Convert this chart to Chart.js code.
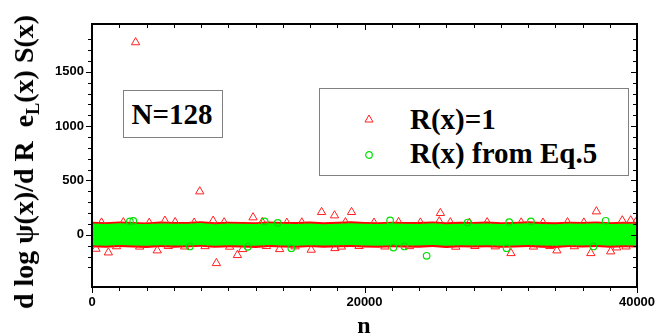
<!DOCTYPE html>
<html>
<head>
<meta charset="utf-8">
<script src="https://cdn.jsdelivr.net/npm/chart.js@4"></script>
<style>
  html, body { margin: 0; padding: 0; background: #fff; }
  #wrap { position: relative; width: 670px; height: 335px; overflow: hidden; }
  #chart { position: absolute; left: 0; top: 0; }
  .serif { font-family: "Liberation Serif", "Times New Roman", serif; font-weight: bold; color: #000; position: absolute; white-space: nowrap; line-height: 1; }
  #ytitle { font-size: 28px; left: 26px; top: 162px; transform: translate(-50%, -50%) rotate(-90deg); }
  #ytitle sub { font-size: 18px; vertical-align: -6px; }
  #xtitle { font-size: 24px; left: 364px; top: 313px; transform: translateX(-50%); }
  .box { position: absolute; border: 1px solid #808080; background: #fff; }
</style>
</head>
<body>
<div id="wrap">
  <canvas id="chart" width="670" height="335"></canvas>
  <div class="serif" id="ytitle">d log &psi;(x)/d R&nbsp; e<sub>L</sub>(x) S(x)</div>
  <div class="serif" id="xtitle">n</div>
  <div class="box" style="left:123px;top:90px;width:98px;height:46px;"></div>
  <div class="serif" style="font-size:29px;left:172px;top:100px;transform:translateX(-50%);">N=128</div>
  <div class="box" style="left:319px;top:88px;width:308px;height:86px;"></div>
  <svg style="position:absolute;left:364px;top:114px;" width="10" height="9"><polygon points="5,1 9,8 1,8" fill="none" stroke="#ff2020" stroke-width="1"/></svg>
  <svg style="position:absolute;left:364px;top:150px;" width="10" height="10"><circle cx="5" cy="5" r="3.3" fill="none" stroke="#00e000" stroke-width="1.2"/></svg>
  <div class="serif" style="font-size:29px;left:410px;top:105px;">R(x)=1</div>
  <div class="serif" style="font-size:29px;left:410px;top:139px;">R(x) from Eq.5</div>
</div>
<script>
// dense band envelope (every 1000 steps)
const bandN = [0,1000,2000,3000,4000,5000,6000,7000,8000,9000,10000,11000,12000,13000,14000,15000,16000,17000,18000,19000,20000,
  21000,22000,23000,24000,25000,26000,27000,28000,29000,30000,31000,32000,33000,34000,35000,36000,37000,38000,39000,40000];
const redTop = [120,116,123,118,114,122,117,119,124,115,121,118,116,123,119,117,122,115,120,124,118,116,121,119,117,123,115,120,118,122,116,119,124,117,115,121,118,123,116,120,119];
const greenTop = [104,100,107,102,99,105,101,103,108,98,104,102,100,106,103,99,105,98,103,107,101,100,104,102,99,106,98,103,101,105,100,102,107,100,98,104,101,106,99,103,102];
const greenBot = [-96,-100,-94,-98,-101,-95,-99,-97,-93,-100,-96,-98,-101,-94,-97,-100,-95,-99,-96,-93,-98,-100,-95,-97,-99,-94,-101,-96,-98,-95,-100,-97,-93,-99,-101,-95,-98,-94,-100,-96,-97];
const redBot = [-114,-119,-111,-117,-120,-113,-118,-115,-110,-119,-114,-117,-120,-112,-116,-119,-113,-118,-115,-111,-117,-119,-114,-116,-118,-112,-120,-115,-117,-114,-119,-116,-111,-118,-120,-113,-117,-112,-119,-115,-116];

// R(x)=1 points standing out of the band
const redN = [3200,7910,9130,16850,17800,19050,11820,10670,1200,290,4790,11060,13770,16090,17830,8890,5350,25570,37020,30750,34120,36610,38070,38510,38920,39540,25490,
  700,2300,4200,6100,7500,9700,12500,14300,15400,18600,20700,22500,24100,26300,27700,29000,31500,33100,34900,36100,39900,
  1800,3500,5600,6800,8300,10100,12800,14900,18300,19600,21500,23300,26700,28100,29600,32400,33600,35400,39200];
const redV = [1771,399,-261,209,178,209,160,-187,-163,-129,-144,-132,-132,-138,-123,129,129,200,215,-169,-144,-169,-153,-117,132,132,123,
  112,115,110,116,111,114,117,110,113,115,111,116,112,114,110,115,113,111,115,112,114,
  -106,-109,-104,-108,-105,-110,-104,-107,-109,-104,-108,-105,-110,-104,-107,-109,-104,-106,-108];

// R(x) from Eq.5 points standing out of the band
const greenN = [2780,3030,7180,12670,13630,14630,11430,21880,22120,22930,24560,27570,30430,30620,32210,37700,36800];
const greenV = [123,128,-107,123,110,-123,-110,132,-117,-107,-193,113,-123,117,123,129,-107];

const xTicks = ['0', '20000', '40000'];
const yTicks = ['0', '500', '1000', '1500'];

function pts(xs, ys) {
  return xs.map((x, i) => ({ x: x, y: ys[i] }));
}

// ticks on all four sides, like the original plot
const frame = {
  id: 'frame',
  afterDraw(chart) {
    const ctx = chart.ctx;
    const a = chart.chartArea;
    const xs = chart.scales.x, ys = chart.scales.y;
    ctx.save();
    ctx.strokeStyle = '#000';
    ctx.lineWidth = 1;
    ctx.beginPath();
    xs.ticks.forEach(t => {
      if (t.value % 2000 !== 0) return;
      const px = Math.round(xs.getPixelForValue(t.value)) + 0.5;
      const len = t.value % 20000 === 0 ? 6 : 4;
      ctx.moveTo(px, a.bottom); ctx.lineTo(px, a.bottom + len);
      ctx.moveTo(px, a.top); ctx.lineTo(px, a.top + len);
    });
    ys.ticks.forEach(t => {
      if (t.value % 100 !== 0) return;
      const py = Math.round(ys.getPixelForValue(t.value)) + 0.5;
      const len = t.value % 500 === 0 ? 6 : 4;
      ctx.moveTo(a.left, py); ctx.lineTo(a.left - len, py);
      ctx.moveTo(a.right, py); ctx.lineTo(a.right - len, py);
    });
    ctx.stroke();
    ctx.lineWidth = 2;
    ctx.strokeRect(a.left, a.top, a.right - a.left, a.bottom - a.top);
    ctx.restore();
  }
};

const tickFont = { family: '"Liberation Sans", Arial, sans-serif', size: 13, weight: 'bold' };

new Chart(document.getElementById('chart'), {
  type: 'line',
  data: {
    datasets: [
      { data: pts(greenN, greenV), showLine: false, pointStyle: 'circle', pointRadius: 3.3,
        borderColor: '#00e000', borderWidth: 1.2, backgroundColor: 'transparent' },
      { data: pts(bandN, greenTop), pointRadius: 0, borderWidth: 0, borderColor: '#00ff00',
        backgroundColor: '#00ff00', fill: 2 },
      { data: pts(bandN, greenBot), pointRadius: 0, borderWidth: 0, borderColor: '#00ff00', fill: false },
      { data: pts(redN, redV), showLine: false, pointStyle: 'triangle', pointRadius: 4.8,
        borderColor: '#ff2020', borderWidth: 1, backgroundColor: 'transparent' },
      { data: pts(bandN, redTop), pointRadius: 0, borderWidth: 0, borderColor: '#ff0000',
        backgroundColor: '#ff0000', fill: 5 },
      { data: pts(bandN, redBot), pointRadius: 0, borderWidth: 0, borderColor: '#ff0000', fill: false }
    ]
  },
  options: {
    responsive: false,
    animation: false,
    layout: { padding: { top: 24, right: 33, left: 0, bottom: 0 } },
    plugins: { legend: { display: false }, tooltip: { enabled: false } },
    scales: {
      x: {
        type: 'linear', min: 0, max: 40000,
        afterFit: s => { s.height = 48; },
        grid: { display: false, drawTicks: false },
        border: { display: false },
        ticks: {
          stepSize: 2000, autoSkip: false, maxRotation: 0, padding: 8, color: '#000', font: tickFont,
          callback: v => xTicks.includes(String(v)) ? String(v) : ''
        }
      },
      y: {
        type: 'linear', min: -480, max: 1940,
        afterFit: s => { s.width = 92; },
        grid: { display: false, drawTicks: false },
        border: { display: false },
        ticks: {
          stepSize: 100, autoSkip: false, padding: 8, color: '#000', font: tickFont,
          callback: v => yTicks.includes(String(v)) ? String(v) : ''
        }
      }
    }
  },
  plugins: [frame]
});
</script>
</body>
</html>
